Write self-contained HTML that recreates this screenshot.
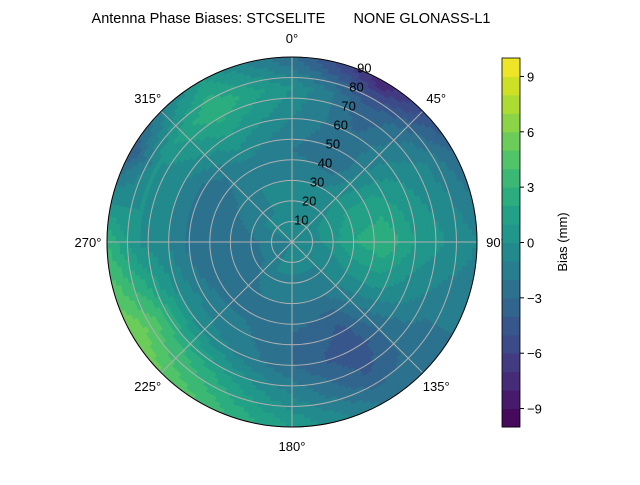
<!DOCTYPE html>
<html><head><meta charset="utf-8"><style>
body{margin:0;background:#fff;}
svg text{font-family:"Liberation Sans",sans-serif;font-size:13px;fill:#000;}
</style></head><body>
<svg id="chart" width="640" height="480" xmlns="http://www.w3.org/2000/svg">
<rect width="640" height="480" fill="#fff"/>
<text x="291" y="23" text-anchor="middle" style="font-size:14.5px;white-space:pre" xml:space="preserve">Antenna Phase Biases: STCSELITE       NONE GLONASS-L1</text>
<g id="field"></g>
<g id="grid"></g>
<g id="cbar"></g>
</svg>
<script>
const azimuths=[0,30,60,90,120,150,180,210,240,270,300,330];
const zeniths=[0,15,30,45,60,75,90];
const biasRows=[
[-1,-1,-1,-2,-1,0,-3],
[-1,-1,-1,-3,-3,-4,-8],
[-1,0,1,1,0,-1,-3],
[-1,0,2,3,1,0,-1],
[-1,-1,0,0,-1,-2,-2],
[-1,-1,-2,-4,-5,-4,-2],
[-1,-1,-2,-3,-3,-1,1],
[-1,-1,-2,-2,-1,2,4],
[-1,-2,-3,-2,0,4,6],
[-1,-2,-3,-3,-1,0,3],
[-1,-1,-2,-3,-1,0,-4],
[-1,-1,-1,-1,1,3,1]];
const ringTicks=[10,20,30,40,50,60,70,80,90];
const angleTicks=[0,45,90,135,180,225,270,315];
const cbarTicks=[-9,-6,-3,0,3,6,9];
const vmin=-10,vmax=10,nLev=20;

const NS="http://www.w3.org/2000/svg";
const cx=292,cy=242,R=185;
function rad(z){return z/90*R;}
function pt(az,z){const t=az*Math.PI/180,r=rad(z);return [cx+r*Math.sin(t),cy-r*Math.cos(t)];}
const vstops=[[68,1,84],[72,35,116],[64,67,135],[52,94,141],[41,120,142],[32,144,140],[34,167,132],[68,190,112],[121,209,81],[189,222,38],[253,231,37]];
function viridis(f){f=Math.max(0,Math.min(1,f));const p=f*10,i=Math.min(9,Math.floor(p)),u=p-i;const a=vstops[i],b=vstops[i+1];return `rgb(${[0,1,2].map(k=>Math.round(a[k]+(b[k]-a[k])*u)).join(',')})`;}
function levColor(v){let k=Math.floor((v-vmin)/(vmax-vmin)*nLev);k=Math.max(0,Math.min(nLev-1,k));return viridis((k+0.5)/nLev);}
function val(az,z){
  const na=azimuths.length;const ap=az/30;let i=Math.floor(ap)%na;const u=ap-Math.floor(ap);const i2=(i+1)%na;
  const zp=z/15;let j=Math.min(zeniths.length-2,Math.floor(zp));const w=zp-j;
  const f=(r)=>r[j]*(1-w)+r[j+1]*w;
  return f(biasRows[i])*(1-u)+f(biasRows[i2])*u;
}
const field=document.getElementById('field');
const da=2,dz=2;
for(let a=0;a<360;a+=da){for(let z=0;z<90;z+=dz){
  const v=val(a+da/2,z+dz/2);
  const p1=pt(a,z),p2=pt(a+da,z),p3=pt(a+da,z+dz),p4=pt(a,z+dz);
  const e=document.createElementNS(NS,'path');
  e.setAttribute('d',`M${p1}L${p2}L${p3}L${p4}Z`);
  e.setAttribute('fill',levColor(v));e.setAttribute('stroke',levColor(v));e.setAttribute('stroke-width','0.6');
  
  
  field.appendChild(e);
}}
const grid=document.getElementById('grid');
function add(parent,tag,attrs,text){const e=document.createElementNS(NS,tag);for(const k in attrs)e.setAttribute(k,attrs[k]);if(text!==undefined)e.textContent=text;parent.appendChild(e);return e;}
ringTicks.forEach(t=>{
  const c=add(grid,'circle',{cx,cy,r:rad(t),fill:'none',stroke:'#b0b0b0','stroke-width':1});
  
  
});
angleTicks.forEach(a=>{
  const p=pt(a,90);
  const l=add(grid,'line',{x1:cx,y1:cy,x2:p[0],y2:p[1],stroke:'#b0b0b0','stroke-width':1});
  
  
});
const border=add(grid,'circle',{cx,cy,r:R,fill:'none',stroke:'#000','stroke-width':1});


ringTicks.forEach(t=>{
  const t2=22.5*Math.PI/180,r=rad(t)+4;
  const tx=add(grid,'text',{x:cx+r*Math.sin(t2),y:cy-r*Math.cos(t2)+5,'text-anchor':'middle'},String(t));
  
  
});
angleTicks.forEach(a=>{
  const t=a*Math.PI/180,r=R+19;
  const x=cx+r*Math.sin(t),y=cy-r*Math.cos(t)+5;
  const tx=add(grid,'text',{x,y,'text-anchor':'middle'},a+'°');
  
  
});
const cb=document.getElementById('cbar');
const bx=502,by=58,bw=18,bh=369;
function cy2(v){return by+bh*(vmax-v)/(vmax-vmin);}
for(let k=0;k<nLev;k++){
  const lo=vmin+k*(vmax-vmin)/nLev,hi=lo+(vmax-vmin)/nLev;
  const r=add(cb,'rect',{x:bx,y:cy2(hi),width:bw,height:cy2(lo)-cy2(hi)+0.5,fill:viridis((k+0.5)/nLev)});
  
  
}
const ob=add(cb,'rect',{x:bx,y:by,width:bw,height:bh,fill:'none',stroke:'#000','stroke-width':0.8});


cbarTicks.forEach(v=>{
  const y=cy2(v);
  const l=add(cb,'line',{x1:bx+bw,x2:bx+bw+4,y1:y,y2:y,stroke:'#000'});
  
  
  const tx=add(cb,'text',{x:bx+bw+7,y:y+5},v<0?'\u2212'+(-v):String(v));
  
  
});
const lab=add(cb,'text',{x:567,y:242,'text-anchor':'middle',transform:'rotate(-90 567 242)'},'Bias (mm)');


</script>
</body></html>
